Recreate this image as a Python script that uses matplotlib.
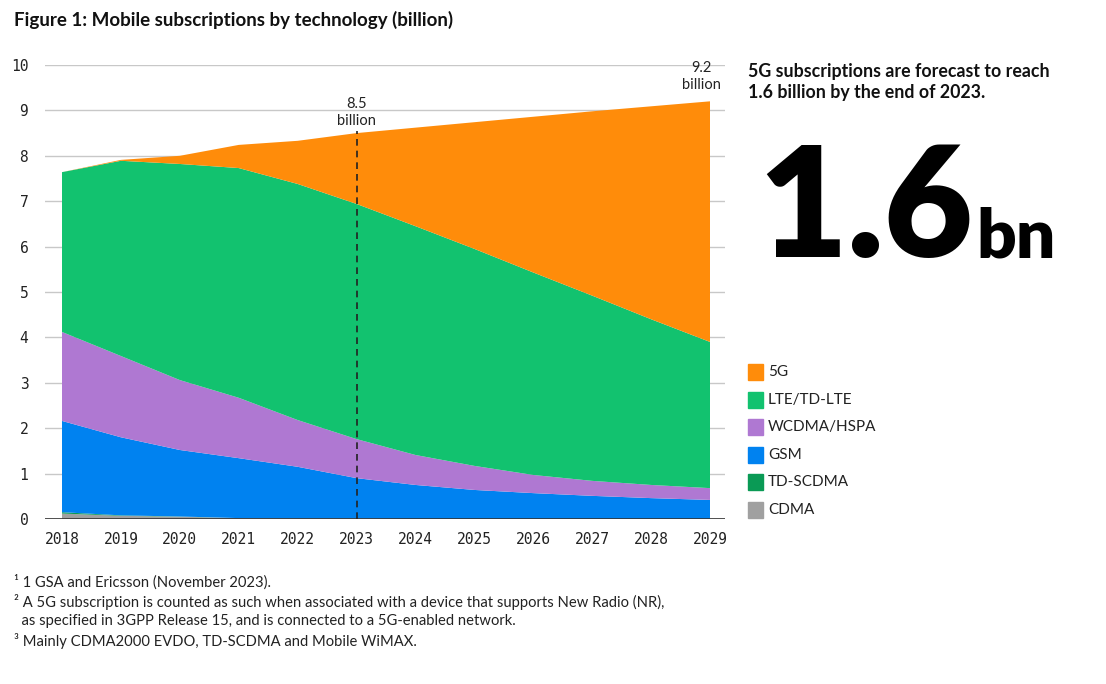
import matplotlib
matplotlib.use("Agg")
import matplotlib.pyplot as plt
import numpy as np

# values in billions
years = [2018, 2019, 2020, 2021, 2022, 2023, 2024, 2025, 2026, 2027, 2028, 2029]
cdma = [0.12, 0.07, 0.05, 0.02, 0.01, 0.01, 0.0, 0.0, 0.0, 0.0, 0.0, 0.0]
td_scdma = [0.03, 0.01, 0.005, 0.0, 0.0, 0.0, 0.0, 0.0, 0.0, 0.0, 0.0, 0.0]
gsm = [2.01, 1.72, 1.465, 1.32, 1.14, 0.89, 0.75, 0.64, 0.57, 0.51, 0.46, 0.42]
wcdma = [1.96, 1.79, 1.54, 1.33, 1.03, 0.86, 0.66, 0.53, 0.40, 0.33, 0.29, 0.26]
lte = [3.52, 4.30, 4.76, 5.06, 5.20, 5.18, 5.04, 4.78, 4.46, 4.08, 3.65, 3.22]
fiveg = [0.0, 0.02, 0.18, 0.51, 0.95, 1.56, 2.17, 2.79, 3.43, 4.06, 4.69, 5.30]

labels = ["CDMA", "TD-SCDMA", "GSM", "WCDMA/HSPA", "LTE/TD-LTE", "5G"]
colors = ["#a0a0a0", "#0a9a55", "#0082f0", "#af78d2", "#12c26f", "#ff8c0a"]

plt.rcParams["font.family"] = ["Lato", "DejaVu Sans"]

fig = plt.figure(figsize=(11.06, 6.84), dpi=100)
W, H = 1106, 684
ax = fig.add_axes([45 / W, 1 - 519 / H, 680 / W, (519 - 65) / H])

series = [cdma, td_scdma, gsm, wcdma, lte, fiveg]
ax.stackplot(years, *series, colors=colors, linewidth=0, zorder=2)

ax.set_xlim(2018 - 17 / 58.9, 2029 + 15 / 58.9)
ax.set_ylim(0, 10)
ax.set_yticks(range(0, 11))
ax.set_xticks(years)
ax.grid(axis="y", color="#c8c8c8", linewidth=1, zorder=0)
ax.axhline(0, color="#333333", linewidth=1.2, zorder=3)
for s in ax.spines.values():
    s.set_visible(False)
ax.tick_params(length=0, labelsize=10.5, labelcolor="#222222")
ax.tick_params(axis="y", pad=12)
ax.tick_params(axis="x", pad=9)
for lab in ax.get_xticklabels() + ax.get_yticklabels():
    lab.set_family("DejaVu Sans Mono")

total = np.sum(series, axis=0)
i23 = years.index(2023)
ax.plot([2023, 2023], [0, total[i23] + 0.05], ls=(0, (4, 3)), color="#222222", lw=1.2, zorder=4)
ax.text(2023, 8.95, f"{total[i23]:.1f}\nbillion", ha="center", va="center",
        fontsize=10.5, color="#222222", linespacing=1.3)
ax.text(2028.85, 9.75, f"{total[-1]:.1f}\nbillion", ha="center", va="center",
        fontsize=10.5, color="#222222", linespacing=1.3, clip_on=False)

fig.text(14 / W, 1 - 20 / H, "Figure 1: Mobile subscriptions by technology (billion)",
         fontsize=13.5, fontweight="bold", va="center", color="#111111")

fig.text(748 / W, 1 - 82 / H, "5G subscriptions are forecast to reach\n1.6 billion by the end of 2023.",
         fontsize=12.8, fontweight="bold", va="center", color="#111111", linespacing=1.25)

# big number: fit "1.6" to the reference width, then put "bn" right after it
big = fig.text(758 / W, 1 - 257 / H, "1.6", fontsize=110, fontweight="heavy", va="baseline",
               color="black")
fig.canvas.draw()
r = fig.canvas.get_renderer()
bb = big.get_window_extent(r)
big.set_fontsize(110 * 215 / bb.width)
fig.canvas.draw()
bb = big.get_window_extent(r)
fig.text((bb.x1 + 4) / W, 1 - 257 / H, "bn", fontsize=50, fontweight="heavy", va="baseline",
         color="black")

# legend, top to bottom
for k, (lab, col) in enumerate(zip(labels[::-1], colors[::-1])):
    yc = 372 + k * 27.6
    fig.patches.append(plt.Rectangle((748 / W, 1 - (yc + 8) / H), 15 / W, 16 / H,
                                     transform=fig.transFigure, color=col))
    fig.text(768 / W, 1 - yc / H, lab, fontsize=11, va="center", color="#222222")

notes = [
    "¹ 1 GSA and Ericsson (November 2023).",
    "² A 5G subscription is counted as such when associated with a device that supports New Radio (NR),",
    "  as specified in 3GPP Release 15, and is connected to a 5G-enabled network.",
    "³ Mainly CDMA2000 EVDO, TD-SCDMA and Mobile WiMAX.",
]
for k, line in enumerate(notes):
    fig.text(14 / W, 1 - (582 + k * 19.7) / H, line, fontsize=10.6, va="center", color="#222222")

fig.savefig("out.png", dpi=100)
